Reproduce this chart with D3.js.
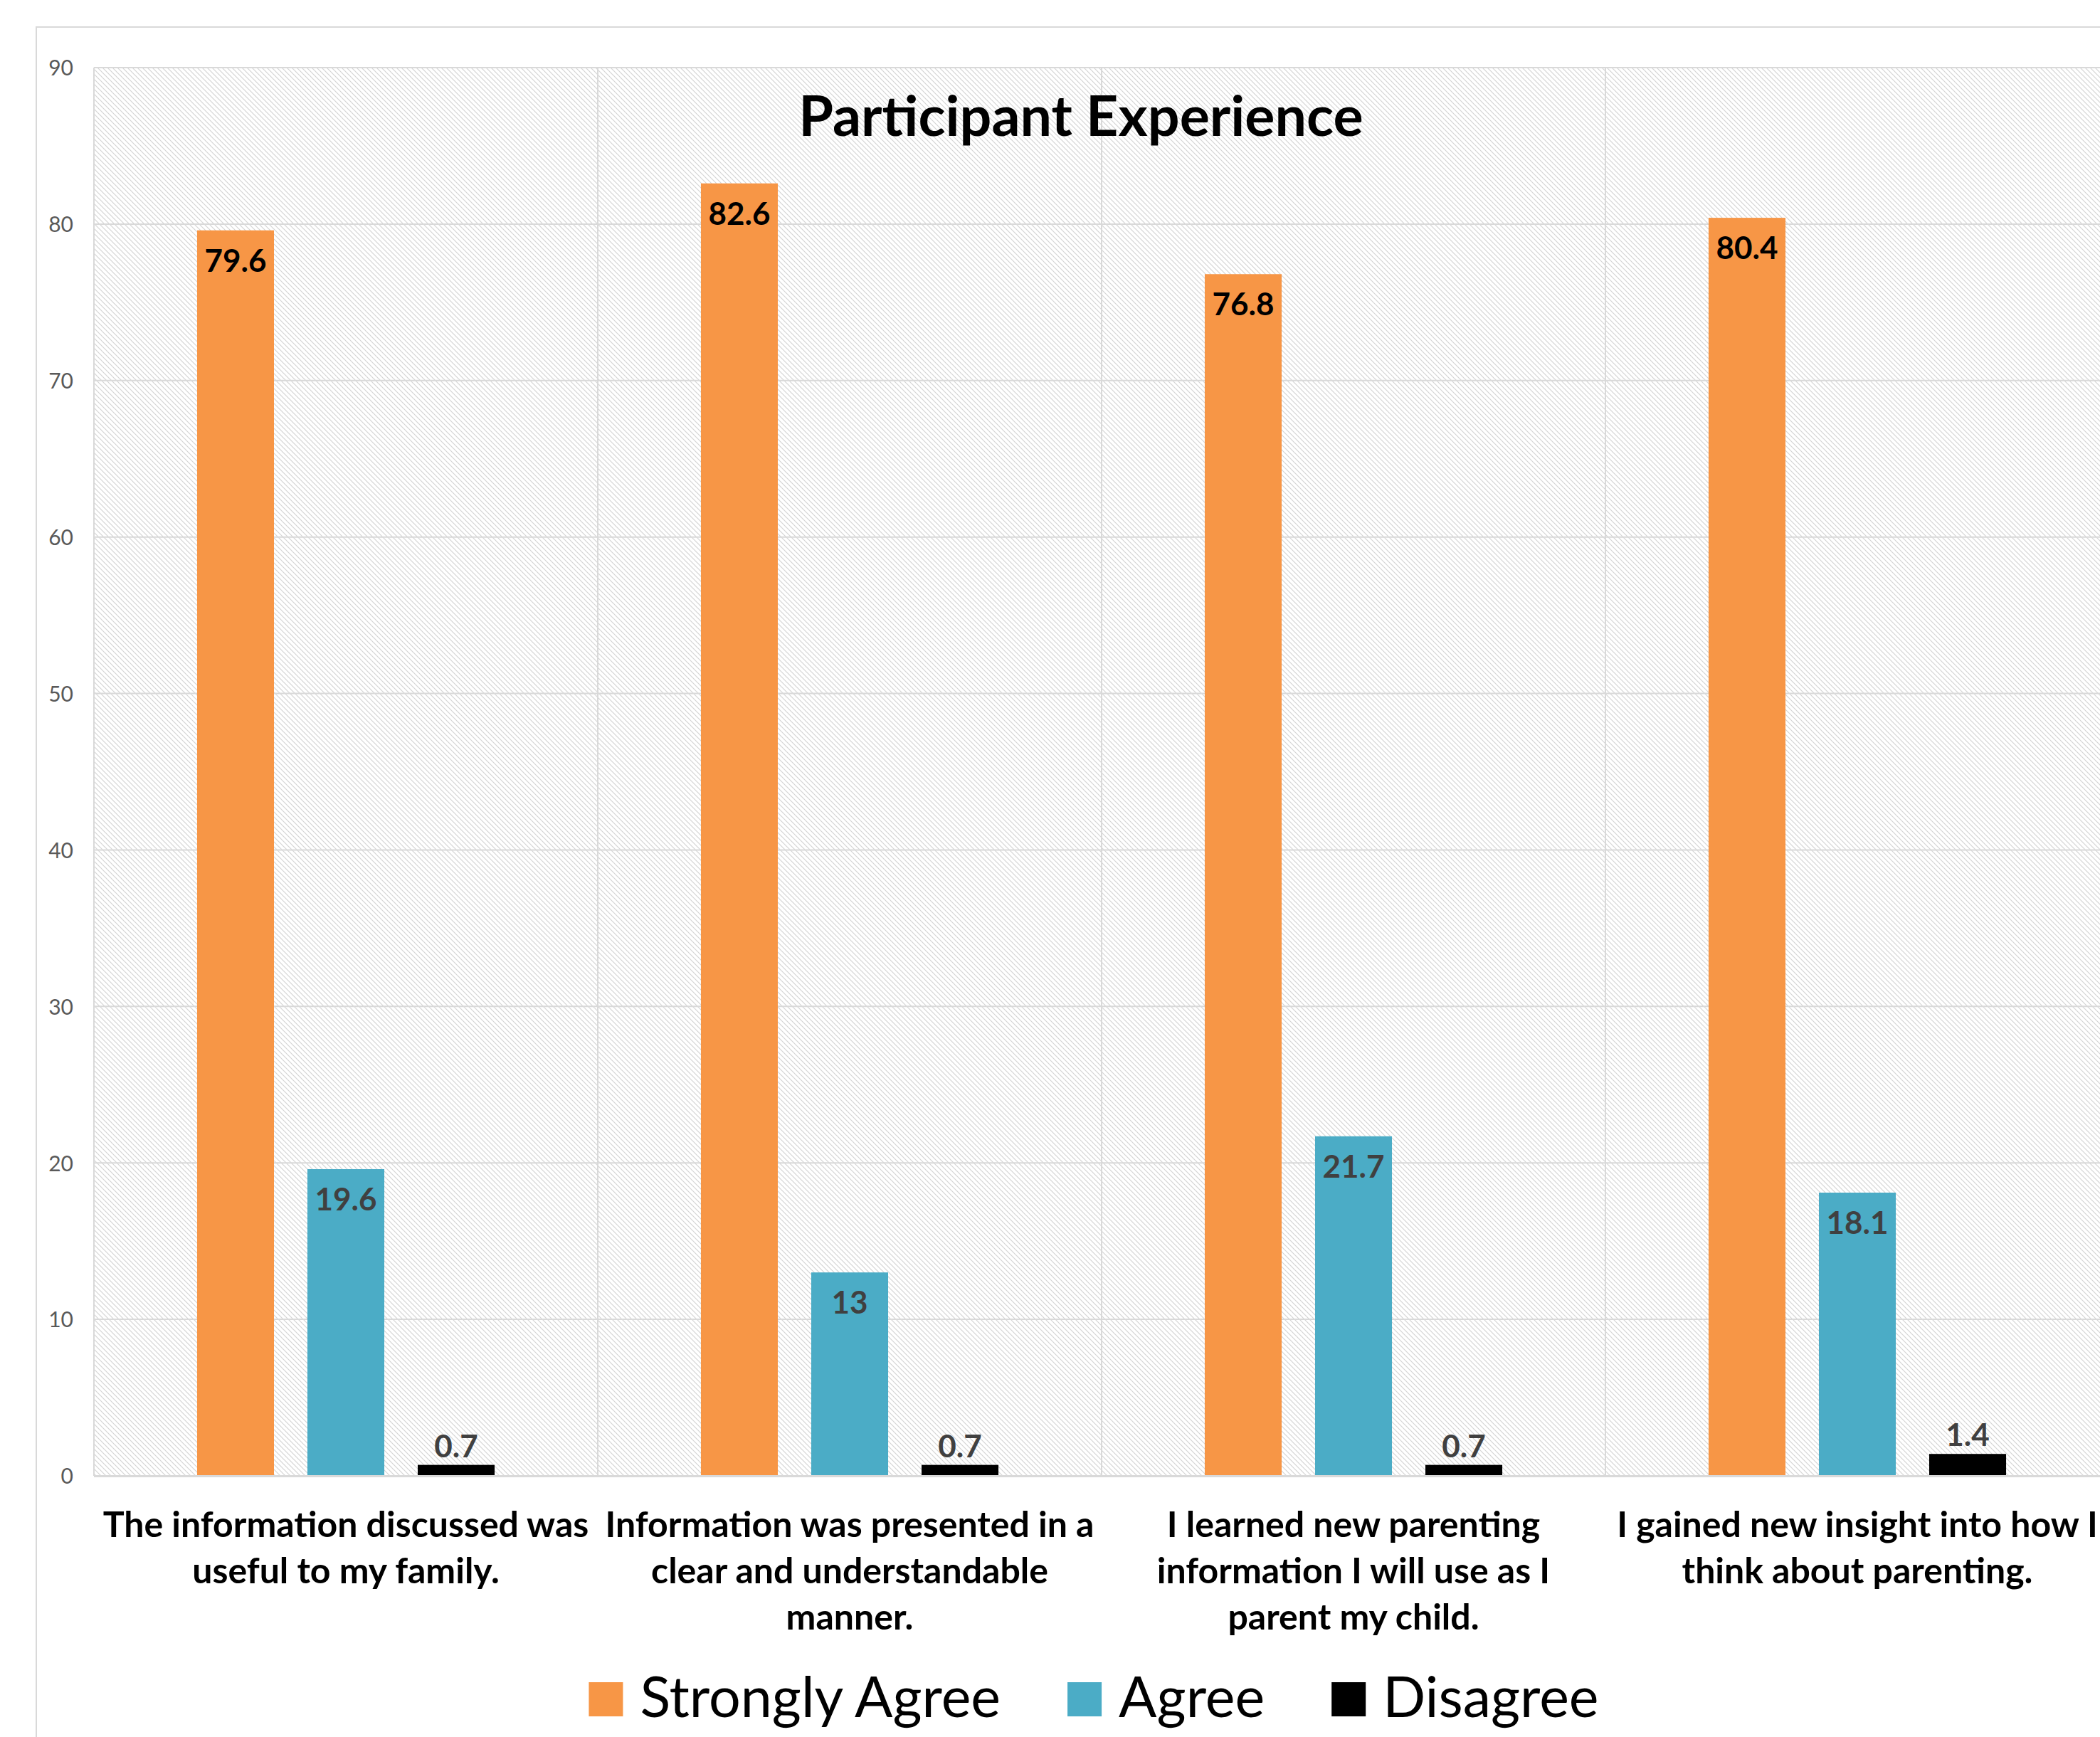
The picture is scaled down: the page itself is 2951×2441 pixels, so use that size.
<!DOCTYPE html>
<html>
<head>
<meta charset="utf-8">
<script src="https://cdn.jsdelivr.net/npm/d3@7"></script>
<style>
  html, body { margin: 0; padding: 0; background: #ffffff; }
  svg { display: block; }
  text { font-family: Lato, "Open Sans", sans-serif; }
</style>
</head>
<body>
<script>
// ---- data ----
const chartTitle = "Participant Experience";
const categories = [
  "The information discussed was\nuseful to my family.",
  "Information was presented in a\nclear and understandable\nmanner.",
  "I learned new parenting\ninformation I will use as I\nparent my child.",
  "I gained new insight into how I\nthink about parenting."
];
const seriesNames = ["Strongly Agree", "Agree", "Disagree"];
const stronglyAgree = [79.6, 82.6, 76.8, 80.4];
const agree = [19.6, 13, 21.7, 18.1];
const disagree = [0.7, 0.7, 0.7, 1.4];
const yTicks = [0, 10, 20, 30, 40, 50, 60, 70, 80, 90];
const seriesColors = ["#F79646", "#4BACC6", "#000000"];

// ---- layout ----
const W = 2951, H = 2441;
const plot = { left: 132, top: 95, bottom: 2074, catWidth: 708 };
const gridColor = "#d9d9d9";

const svg = d3.select("body").append("svg")
  .attr("width", W).attr("height", H)
  .attr("viewBox", `0 0 ${W} ${H}`);

const defs = svg.append("defs");
const pat = defs.append("pattern")
  .attr("id", "hatch").attr("patternUnits", "userSpaceOnUse")
  .attr("width", 7).attr("height", 7);
pat.append("rect").attr("width", 7).attr("height", 7).attr("fill", "#ffffff");
pat.append("path")
  .attr("d", "M0,0 L7,7 M-1,6 L1,8 M6,-1 L8,1")
  .attr("stroke", "#d4d4d4").attr("stroke-width", 1.2);

// chart area border
svg.append("rect")
  .attr("x", 51).attr("y", 38).attr("width", 3200).attr("height", 2600)
  .attr("fill", "#ffffff").attr("stroke", gridColor).attr("stroke-width", 2);

const series = [stronglyAgree, agree, disagree];

const x0 = d3.scaleBand()
  .domain(categories)
  .range([plot.left, plot.left + plot.catWidth * categories.length])
  .paddingInner(0).paddingOuter(0);

const x1 = d3.scaleBand()
  .domain(seriesNames)
  .range([0, x0.bandwidth()])
  .paddingInner(0.303).paddingOuter(0.935);

const y = d3.scaleLinear().domain([0, 90]).range([plot.bottom, plot.top]);

const plotRight = plot.left + plot.catWidth * categories.length;

// plot area hatch background
svg.append("rect")
  .attr("x", plot.left).attr("y", plot.top)
  .attr("width", plotRight - plot.left).attr("height", plot.bottom - plot.top)
  .attr("fill", "url(#hatch)");

// horizontal gridlines
svg.append("g").selectAll("line").data(yTicks.filter(t => t > 0)).join("line")
  .attr("x1", plot.left).attr("x2", plotRight)
  .attr("y1", d => y(d)).attr("y2", d => y(d))
  .attr("stroke", gridColor).attr("stroke-width", 2);

// vertical category gridlines
const vlines = categories.map(c => x0(c)).concat([plotRight]);
svg.append("g").selectAll("line").data(vlines).join("line")
  .attr("x1", d => d).attr("x2", d => d)
  .attr("y1", plot.top).attr("y2", plot.bottom)
  .attr("stroke", gridColor).attr("stroke-width", 2);

// y axis labels (via d3 axis)
const yAxis = d3.axisLeft(y).tickValues(yTicks).tickSize(0).tickPadding(0).tickFormat(d3.format("d"));
const yg = svg.append("g").attr("transform", `translate(${plot.left - 29},0)`).call(yAxis);
yg.select(".domain").remove();
yg.selectAll("text")
  .attr("font-family", "Lato, sans-serif")
  .attr("font-size", 30).attr("fill", "#595959")
  .attr("dy", "0.36em");

// bars
const barData = [];
categories.forEach((c, i) => {
  seriesNames.forEach((s, j) => {
    barData.push({ cat: c, ser: s, si: j, v: series[j][i] });
  });
});

svg.append("g").selectAll("rect").data(barData).join("rect")
  .attr("x", d => x0(d.cat) + x1(d.ser))
  .attr("y", d => y(d.v))
  .attr("width", x1.bandwidth())
  .attr("height", d => y(0) - y(d.v))
  .attr("fill", d => seriesColors[d.si]);

// bottom axis line
svg.append("line")
  .attr("x1", plot.left).attr("x2", plotRight)
  .attr("y1", plot.bottom + 0.5).attr("y2", plot.bottom + 0.5)
  .attr("stroke", gridColor).attr("stroke-width", 3);

// data labels
svg.append("g").selectAll("text").data(barData).join("text")
  .attr("x", d => x0(d.cat) + x1(d.ser) + x1.bandwidth() / 2)
  .attr("y", d => d.si === 2 ? y(d.v) - 11 : y(d.v) + 58)
  .attr("text-anchor", "middle")
  .attr("font-size", 44).attr("font-weight", 700)
  .attr("fill", d => d.si === 0 ? "#000000" : "#404040")
  .text(d => String(d.v));

// category labels
const catG = svg.append("g");
categories.forEach(c => {
  const lines = c.split("\n");
  const t = catG.append("text")
    .attr("text-anchor", "middle")
    .attr("font-size", 50).attr("font-weight", 700).attr("fill", "#000000");
  lines.forEach((ln, k) => {
    t.append("tspan")
      .attr("x", x0(c) + x0.bandwidth() / 2)
      .attr("y", 2160 + k * 65)
      .text(ln);
  });
});

// title
svg.append("text")
  .attr("x", 1519).attr("y", 191)
  .attr("text-anchor", "middle")
  .attr("font-size", 79).attr("font-weight", 700).attr("fill", "#000000")
  .text(chartTitle);

// legend
const legG = svg.append("g");
const sq = 48, gapSq = 24, gapItem = 94;
const items = seriesNames.map((s, j) => {
  const g = legG.append("g");
  g.append("rect").attr("width", sq).attr("height", sq).attr("y", 2364)
    .attr("fill", seriesColors[j]);
  const t = g.append("text").attr("x", sq + gapSq).attr("y", 2413)
    .attr("font-size", 79).attr("fill", "#000000").text(s);
  return { g, w: sq + gapSq + t.node().getComputedTextLength() };
});
const total = d3.sum(items, d => d.w) + gapItem * (items.length - 1);
let cx = 1537 - total / 2;
items.forEach(it => {
  it.g.attr("transform", `translate(${cx},0)`);
  cx += it.w + gapItem;
});
</script>
</body>
</html>
